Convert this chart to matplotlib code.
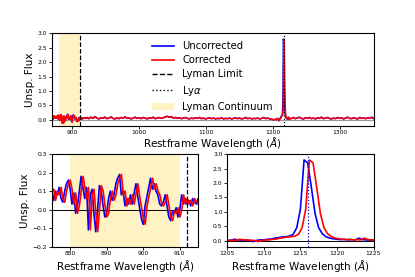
import numpy as np
import matplotlib
matplotlib.use("Agg")
import matplotlib.pyplot as plt
from matplotlib.patches import Patch
from matplotlib.lines import Line2D

# ---- data ----
# segment A: 868.0 .. 917.0 step 0.5 (Lyman continuum region)
segA_start, segA_step = 868.0, 0.5
segA_flux = [0.06, 0.12, 0.04, 0.10, 0.07, 0.13, 0.05, 0.09, 0.03, 0.11,
             0.08, 0.14, 0.06, 0.10, 0.11, 0.05, 0.10, 0.08, 0.12, 0.06,
             0.04, 0.10, 0.14, 0.16, 0.11, 0.03, 0.09, -0.02, 0.02, 0.10,
             0.18, 0.12, 0.06, 0.12, -0.11, 0.08, 0.11, -0.02, -0.12, 0.00,
             0.13, 0.10, 0.02, -0.04, -0.02, 0.06, 0.10, 0.05, 0.08, 0.14,
             0.17, 0.19, 0.08, 0.10, 0.02, 0.06, 0.03, 0.08, 0.03, 0.09,
             0.14, 0.07, 0.01, -0.05, -0.08, 0.02, 0.07, 0.12, 0.17, 0.11,
             0.14, 0.10, 0.08, 0.03, 0.02, 0.04, 0.08, 0.02, -0.04, -0.06,
             -0.01, -0.02, 0.01, -0.04, 0.00, 0.08, 0.03, 0.06, 0.03, 0.05,
             0.02, 0.06, 0.04, 0.03, 0.06, 0.04, 0.07, 0.05, 0.06]
# segment B: 919 .. step 3 (continuum)
segB_start, segB_step = 919.0, 3.0
segB_flux = [0.05, 0.08, 0.04, 0.09, 0.05, 0.11, 0.06, 0.03, 0.07, 0.05,
             0.09, 0.04, 0.06, 0.10, 0.05, 0.03, 0.07, 0.04, 0.08, 0.06,
             0.10, 0.05, 0.07, 0.03, 0.06, 0.09, 0.05, 0.07, 0.04, 0.08,
             0.06, 0.03, 0.07, 0.05, 0.09, 0.04, 0.06, 0.08, 0.05, 0.07,
             0.10, 0.12, 0.09, 0.11, 0.06, 0.08, 0.05, 0.07, 0.04, 0.06,
             0.08, 0.05, 0.03, 0.06, 0.04, 0.07, 0.05, 0.08, 0.04, 0.06,
             0.03, 0.05, 0.07, 0.04, 0.06, 0.03, 0.05, 0.04, 0.07, 0.03,
             0.05, 0.04, 0.06, 0.03, 0.05, 0.07, 0.04, 0.06, 0.03, 0.05,
             0.08, 0.04, 0.06, 0.03, 0.05, 0.04, 0.06, 0.03, 0.05, 0.08,
             0.04, 0.06, 0.03, 0.02, 0.00, 0.02]
# segment C: 1205.0 .. 1225.0 step 0.5 (Lyman alpha)
segC_start, segC_step = 1205.0, 0.5
segC_flux = [0.01, 0.02, 0.05, 0.03, 0.02, 0.02, 0.01, -0.03, 0.01, 0.03,
             0.03, 0.05, 0.06, 0.09, 0.11, 0.13, 0.14, 0.16, 0.22, 0.45,
             1.10, 2.80, 2.70, 1.85, 0.95, 0.45, 0.24, 0.14, 0.09, 0.07,
             0.05, 0.04, 0.05, 0.03, 0.04, 0.03, 0.09, 0.04, 0.03, 0.02,
             0.03]
# segment D: 1227 .. step 3 (continuum)
segD_start, segD_step = 1227.0, 3.0
segD_flux = [0.05, 0.08, 0.04, 0.06, 0.09, 0.05, 0.03, 0.07, 0.05, 0.08,
             0.04, 0.06, 0.03, 0.07, 0.05, 0.09, 0.04, 0.06, 0.08, 0.05,
             0.03, 0.06, 0.04, 0.08, 0.05, 0.07, 0.03, 0.06, 0.09, 0.05,
             0.04, 0.07, 0.05, 0.03, 0.08, 0.05, 0.06, 0.04, 0.07, 0.05,
             0.09, 0.04, 0.06]

corr_shift = 6.0e-4          # fractional wavelength correction
lyman_limit = 912.0
lya = 1216.0
lyc_range = (880.0, 910.0)

def seg_wave(start, step, flux):
    return start + step * np.arange(len(flux))

wave_unc = np.concatenate([seg_wave(segA_start, segA_step, segA_flux),
                           seg_wave(segB_start, segB_step, segB_flux),
                           seg_wave(segC_start, segC_step, segC_flux),
                           seg_wave(segD_start, segD_step, segD_flux)])
flux = np.concatenate([segA_flux, segB_flux, segC_flux, segD_flux])
wave_cor = wave_unc * (1.0 + corr_shift)

# ---- figure ----
plt.rcParams['font.family'] = 'DejaVu Sans'
fig = plt.figure(figsize=(4.15, 2.77), dpi=100)
gs = fig.add_gridspec(2, 2, left=0.125, right=0.9, top=0.88, bottom=0.11,
                      hspace=0.31, wspace=0.2)
ax1 = fig.add_subplot(gs[0, :])
ax2 = fig.add_subplot(gs[1, 0])
ax3 = fig.add_subplot(gs[1, 1])

span_color = '#fff3c4'
tick_fs = 4.3
lab_fs = 7.5

for ax in (ax1, ax2, ax3):
    ax.tick_params(labelsize=tick_fs, length=2, width=0.6, pad=1.5)
    for s in ax.spines.values():
        s.set_linewidth(0.8)

# top panel
ax1.axvspan(*lyc_range, color=span_color, lw=0)
ax1.axhline(0, color='0.6', lw=0.8)
ax1.plot(wave_unc, flux, color='blue', lw=1.1)
ax1.plot(wave_cor, flux, color='red', lw=1.1)
ax1.axvline(lyman_limit, color='black', ls='--', lw=0.9)
ax1.axvline(lya, color='black', ls=':', lw=0.9)
ax1.set_xlim(870, 1350)
ax1.set_ylim(-0.2, 3.0)
ax1.set_xticks([900, 1000, 1100, 1200, 1300])
ax1.set_yticks(np.arange(0, 3.01, 0.5))
ax1.set_xlabel(r'Restframe Wavelength ($\AA$)', fontsize=lab_fs, labelpad=0)
ax1.set_ylabel('Unsp. Flux', fontsize=lab_fs, labelpad=2)

handles = [Line2D([], [], color='blue', lw=1.2),
           Line2D([], [], color='red', lw=1.2),
           Line2D([], [], color='black', ls='--', lw=1.0),
           Line2D([], [], color='black', ls=':', lw=1.0),
           Patch(facecolor=span_color, edgecolor='none')]
labels = ['Uncorrected', 'Corrected', 'Lyman Limit', r'Ly$\alpha$', 'Lyman Continuum']
ax1.legend(handles, labels, loc='upper center', bbox_to_anchor=(0.5, 0.98),
           frameon=False, fontsize=7.2, handlelength=2.2, handletextpad=0.8,
           labelspacing=0.42, borderaxespad=0.2)

# bottom-left panel
ax2.axvspan(*lyc_range, color=span_color, lw=0)
ax2.axhline(0, color='black', lw=0.7)
ax2.plot(wave_unc, flux, color='blue', lw=1.2)
ax2.plot(wave_cor, flux, color='red', lw=1.2)
ax2.axvline(lyman_limit, color='black', ls='--', lw=0.9)
ax2.set_xlim(875, 915)
ax2.set_ylim(-0.2, 0.3)
ax2.set_xticks([880, 890, 900, 910])
ax2.set_yticks(np.arange(-0.2, 0.31, 0.1))
ax2.set_xlabel(r'Restframe Wavelength ($\AA$)', fontsize=lab_fs, labelpad=1)
ax2.set_ylabel('Unsp. Flux', fontsize=lab_fs, labelpad=2)

# bottom-right panel
ax3.axhline(0, color='black', lw=0.7)
ax3.plot(wave_unc, flux, color='blue', lw=1.2)
ax3.plot(wave_cor, flux, color='red', lw=1.2)
ax3.axvline(lya, color='blue', ls=':', lw=0.9)
ax3.set_xlim(1205, 1225)
ax3.set_ylim(-0.2, 3.0)
ax3.set_xticks([1205, 1210, 1215, 1220, 1225])
ax3.set_yticks(np.arange(0, 3.01, 0.5))
ax3.set_xlabel(r'Restframe Wavelength ($\AA$)', fontsize=lab_fs, labelpad=1)

fig.savefig('out.png', dpi=100)
